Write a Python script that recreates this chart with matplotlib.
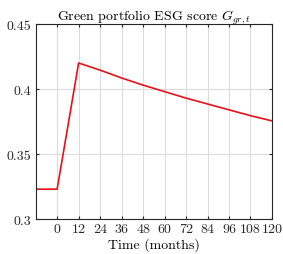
import matplotlib
matplotlib.use("Agg")
import matplotlib.pyplot as plt

months = [-12, 0, 12, 24, 36, 48, 60, 72, 84, 96, 108, 120]
esg = [0.323, 0.323, 0.420, 0.4145, 0.4085, 0.403, 0.398, 0.393, 0.3885, 0.384, 0.3795, 0.3755]
xticks = [0, 12, 24, 36, 48, 60, 72, 84, 96, 108, 120]
yticks = [0.3, 0.35, 0.4, 0.45]
ytick_labels = ["0.3", "0.35", "0.4", "0.45"]

plt.rcParams['font.family'] = ['cmr10', 'DejaVu Serif']
plt.rcParams['mathtext.fontset'] = 'cm'
plt.rcParams['axes.unicode_minus'] = False

fig = plt.figure(figsize=(2.83, 2.55), dpi=100)
ax = fig.add_axes([0.126, 0.137, 0.835, 0.765])
ax.plot(months, esg, color='#e8101a', lw=1.2)
ax.set_xlim(-12, 120)
ax.set_ylim(0.3, 0.45)
ax.set_xticks(xticks)
ax.set_xticklabels([str(t) for t in xticks])
ax.set_yticks(yticks)
ax.set_yticklabels(ytick_labels)
ax.grid(True, color='#dcdcdc', lw=0.8)
ax.set_axisbelow(True)
ax.tick_params(direction='in', length=2.5, labelsize=10, top=True, right=True, pad=3, colors='#262626')
for s in ax.spines.values():
    s.set_color('#262626')
    s.set_linewidth(0.8)
ax.set_xlabel('Time (months)', fontsize=10, labelpad=1)
ax.set_title(r'Green portfolio ESG score $G_{gr,t}$', fontsize=10, pad=3)
fig.savefig('out.png', dpi=100)
